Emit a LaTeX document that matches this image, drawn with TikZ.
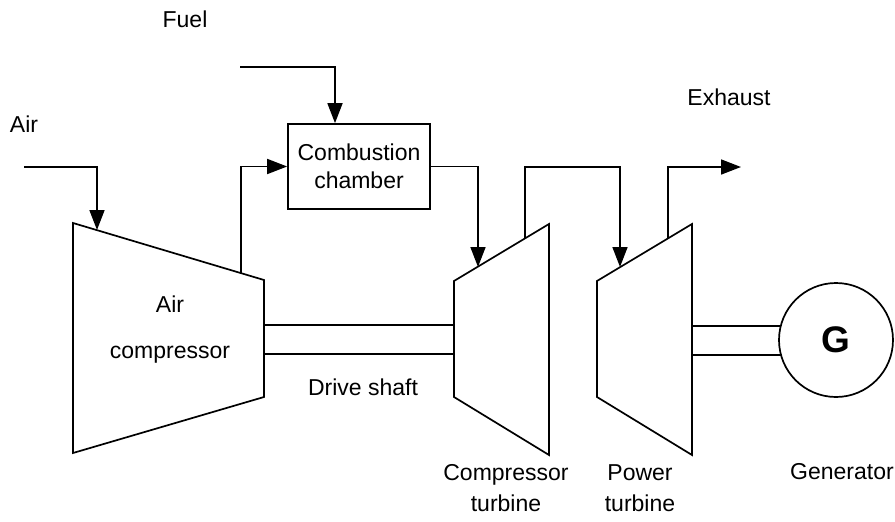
\documentclass[tikz,border=0pt]{standalone}
\usepackage{fontspec}
\setmainfont{Liberation Sans}
\usetikzlibrary{arrows.meta}
\begin{document}
\begin{tikzpicture}[x=1pt,y=-1pt, line width=1.7pt, line join=miter,
  lbl/.style={font=\fontsize{23}{31}\selectfont, align=center, inner sep=0pt},
  arr/.style={-{Triangle[length=20pt,width=15pt]}},
  box/.style={draw, minimum width=142pt, minimum height=85pt, inner sep=0pt, align=center, font=\fontsize{23}{28}\selectfont},
  gen/.style={draw, circle, minimum size=114pt, inner sep=0pt, font=\fontsize{37}{37}\selectfont\bfseries}]
\useasboundingbox (0,0) rectangle (895,522);
% compressor
\coordinate (c1) at (73,223); \coordinate (c2) at (264,280);
\coordinate (c3) at (264,397); \coordinate (c4) at (73,453);
\draw (c1) -- (c2) -- (c3) -- (c4) -- cycle;
% compressor turbine
\coordinate (t1) at (454,281); \coordinate (t2) at (549,224);
\coordinate (t3) at (549,455); \coordinate (t4) at (454,397);
\draw (t1) -- (t2) -- (t3) -- (t4) -- cycle;
% power turbine
\coordinate (p1) at (597,281); \coordinate (p2) at (692,224);
\coordinate (p3) at (692,455); \coordinate (p4) at (597,397);
\draw (p1) -- (p2) -- (p3) -- (p4) -- cycle;
% combustion chamber
\node[box] (cc) at (359,166.5) {Combustion\\chamber};
% generator
\node[gen] (g) at (836,340) {G};
% drive shaft
\coordinate (s1) at (264,325); \coordinate (s2) at (454,325);
\coordinate (s3) at (264,354); \coordinate (s4) at (454,354);
\draw (s1) -- (s2) (s3) -- (s4);
% generator shaft
\coordinate (g1) at (692,326); \coordinate (g2) at (781,326);
\coordinate (g3) at (692,355); \coordinate (g4) at (781,355);
\draw (g1) -- (g2) (g3) -- (g4);
% flows
\coordinate (airin) at (24,167); \coordinate (cin) at (97,230);
\draw[arr] (airin) -| (cin);
\coordinate (fuelin) at (240,67);
\draw[arr] (fuelin) -| (cc.north -| 335,0);
\coordinate (cout) at (241,273);
\draw[arr] (cout) |- (cc.west);
\coordinate (tin) at (478,267);
\draw[arr] (cc.east) -| (tin);
\coordinate (tout) at (525,238.5); \coordinate (pin) at (620,267);
\draw[arr] (tout) -- (525,167) -| (pin);
\coordinate (pout) at (668,238.5); \coordinate (exh) at (741,167);
\draw[arr] (pout) |- (exh);
% labels
\node[lbl] (lfuel) at (185,19) {Fuel};
\node[lbl] (lair) at (24,124) {Air};
\node[lbl] (lexh) at (729,97) {Exhaust};
\node[lbl, font=\fontsize{23}{26}\selectfont] (lcomp) at (170,330) {Air\\[20pt]compressor};
\node[lbl] (lshaft) at (363,387) {Drive shaft};
\node[lbl] (lct) at (506,488) {Compressor\\turbine};
\node[lbl] (lpt) at (640,488) {Power\\turbine};
\node[lbl] (lgen) at (842,472) {Generator};
\end{tikzpicture}
\end{document}
